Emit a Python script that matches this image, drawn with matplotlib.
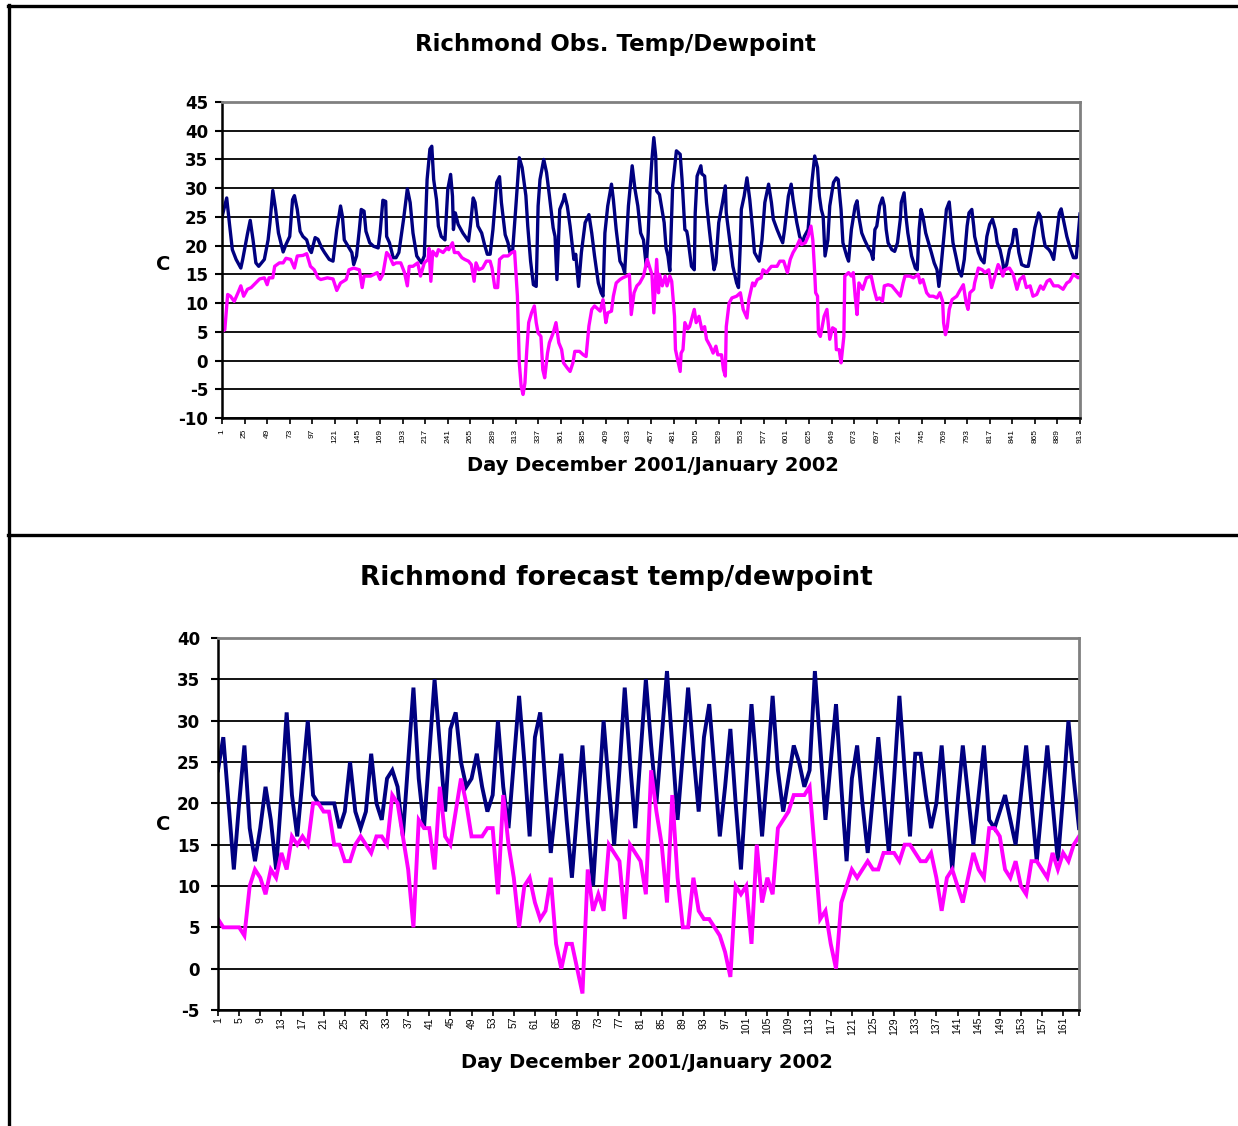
import matplotlib
matplotlib.use("Agg")
import matplotlib.pyplot as plt
from matplotlib.lines import Line2D

plt.rcParams["axes.unicode_minus"] = False

# ---------------- data: observed (hourly, top chart) ----------------
obs_temp_hour = [1, 6, 9, 12, 16, 21, 23, 28, 31, 34, 37, 40, 46, 50, 52, 55, 58, 61, 66, 69,
                 73, 76, 78, 81, 84, 87, 91, 94, 96, 100, 103, 107, 110, 115, 119, 123, 127, 129, 131, 135,
                 139, 141, 144, 147, 149, 152, 154, 158, 162, 167, 169, 172, 175, 176, 179, 183, 186, 189, 194, 198,
                 201, 204, 208, 213, 216, 219, 222, 224, 226, 229, 231, 234, 238, 241, 244, 246, 247, 249, 252, 257,
                 263, 265, 268, 270, 273, 277, 280, 283, 286, 289, 293, 296, 298, 302, 305, 307, 310, 313, 317, 320,
                 324, 326, 329, 332, 335, 337, 339, 343, 346, 349, 353, 355, 357, 360, 364, 365, 368, 371, 375, 377,
                 380, 383, 387, 391, 394, 397, 401, 404, 406, 408, 411, 415, 417, 420, 424, 427, 429, 433, 437, 440,
                 443, 446, 449, 452, 454, 456, 458, 460, 462, 463, 466, 468, 471, 473, 475, 477, 480, 484, 488, 490,
                 493, 495, 496, 500, 503, 504, 506, 510, 511, 514, 516, 519, 521, 524, 526, 529, 533, 536, 537, 541,
                 544, 548, 550, 552, 553, 556, 559, 562, 565, 567, 572, 575, 578, 582, 585, 587, 591, 594, 597, 599,
                 603, 606, 608, 612, 615, 618, 620, 624, 628, 631, 634, 636, 638, 640, 642, 645, 647, 651, 654, 656,
                 659, 661, 665, 667, 670, 674, 676, 678, 681, 684, 688, 691, 693, 695, 697, 700, 703, 705, 707, 709,
                 713, 716, 719, 722, 723, 726, 728, 730, 734, 738, 740, 742, 744, 746, 749, 752, 755, 758, 761, 763,
                 765, 768, 771, 774, 776, 778, 781, 784, 787, 790, 793, 795, 798, 800, 801, 805, 808, 811, 814, 817,
                 820, 823, 825, 828, 831, 832, 835, 838, 841, 843, 845, 848, 851, 855, 858, 862, 865, 869, 871, 874,
                 876, 880, 882, 885, 888, 891, 893, 896, 899, 903, 906, 909, 913]
obs_temp_c = [25, 28.3, 23.7, 19.3, 17.6, 16.1, 17.6, 22, 24.4, 21, 17, 16.4, 17.6, 21, 24, 29.6, 26.3, 22.2, 18.9, 20.2,
              21.6, 28, 28.7, 26.3, 22.5, 21.6, 21, 19.3, 18.8, 21.4, 21.1, 19.6, 18.8, 17.6, 17.3, 22.8, 26.9, 25.1, 21, 19.9,
              18.8, 16.7, 18.2, 22.8, 26.3, 26, 22.5, 20.5, 19.9, 19.6, 22.2, 27.9, 27.7, 21.6, 20.5, 17.9, 17.9, 18.8, 24.6, 29.9,
              27.5, 22.2, 18.2, 17, 18.2, 31.5, 36.8, 37.3, 31.5, 28, 23.4, 21.6, 21, 29.8, 32.4, 28.6, 22.8, 25.7, 23.7, 22.2,
              20.8, 23.4, 28.3, 27.5, 23.4, 22.2, 20.2, 18.5, 18.5, 22.8, 31, 32, 27.5, 21.9, 20.5, 18.8, 19.3, 26, 35.3, 33.6,
              28.7, 23.4, 17.3, 13.2, 12.9, 26.9, 31.5, 35, 32.7, 28.7, 23.1, 21.6, 14.1, 26.3, 28, 28.9, 26.9, 23.4, 17.6, 18.5,
              12.9, 18.8, 24, 25.4, 22.2, 18.2, 13.5, 11.8, 11.2, 22.2, 26.9, 30.7, 28, 22.8, 17.3, 16.4, 15.3, 26.9, 33.9, 29.8,
              26.9, 22.2, 21, 16.4, 22, 30, 35, 38.8, 35.6, 29.5, 28.9, 26.9, 24, 19.6, 18.2, 15.6, 30.4, 36.5, 35.9, 31.5,
              22.8, 22.5, 21.6, 16.4, 15.8, 25.7, 32.1, 33.9, 32.5, 32.1, 27.5, 22.8, 19.9, 15.8, 17, 24, 27.5, 30.4, 25.7, 20.5,
              16.4, 13.5, 12.7, 20.5, 26.3, 28.6, 31.8, 28, 22.8, 18.8, 17.3, 21, 27.5, 30.7, 27.5, 24.6, 22.8, 21.6, 20.5, 22.8,
              28.6, 30.7, 28, 24, 21.6, 20.5, 21.6, 22.8, 31, 35.6, 33.6, 28.6, 26.3, 25.1, 18.2, 21, 26.9, 31, 31.8, 31.5,
              26.3, 20.5, 18.2, 17.3, 22.8, 26.9, 27.8, 25, 22.2, 21, 19.6, 18.8, 17.6, 22.8, 23.4, 26.9, 28.3, 26.9, 22.8, 20.5,
              19.3, 19, 20.5, 24.6, 27.5, 29.2, 25.1, 22.2, 18.2, 16.1, 15.8, 22.8, 26.3, 25.1, 22.2, 20.5, 18.8, 17, 15.8, 12.9,
              15.8, 21, 26.3, 27.6, 24, 20.5, 18.2, 15.8, 14.7, 17.6, 23.4, 25.7, 26.3, 23.4, 21.6, 18.8, 17.6, 17, 21.6, 23.7,
              24.6, 22.8, 20.5, 19.3, 17, 15.8, 16.7, 19.3, 20.5, 22.8, 22.8, 18.8, 16.7, 16.4, 16.4, 19.9, 23.1, 25.7, 25.1, 21.6,
              19.9, 19.3, 18.8, 17.6, 21.6, 25.7, 26.4, 24, 21.6, 19.3, 17.9, 17.9, 25.5]

obs_dew_hour = [1, 4, 7, 10, 14, 18, 21, 24, 28, 32, 35, 41, 46, 49, 51, 55, 57, 62, 66, 69,
                74, 78, 81, 87, 91, 95, 99, 103, 106, 113, 119, 123, 127, 133, 136, 141, 147, 150, 152, 159,
                166, 169, 172, 176, 179, 183, 186, 191, 195, 198, 200, 204, 209, 212, 216, 220, 221, 223, 225, 229,
                231, 236, 240, 242, 246, 248, 252, 256, 259, 263, 266, 269, 271, 274, 278, 282, 286, 288, 291, 294,
                296, 300, 305, 309, 312, 315, 317, 319, 321, 323, 325, 327, 330, 333, 335, 337, 340, 342, 344, 347,
                349, 353, 356, 359, 362, 364, 368, 371, 374, 376, 381, 385, 388, 391, 394, 397, 403, 406, 409, 411,
                415, 417, 420, 424, 427, 431, 434, 436, 439, 442, 445, 449, 453, 456, 458, 460, 463, 465, 466, 469,
                472, 474, 477, 479, 482, 483, 486, 488, 489, 491, 493, 496, 498, 500, 503, 505, 508, 511, 514, 516,
                520, 523, 526, 528, 532, 534, 536, 537, 540, 543, 548, 552, 555, 559, 561, 565, 567, 570, 574, 576,
                580, 582, 585, 591, 594, 598, 602, 605, 608, 612, 615, 617, 621, 624, 627, 629, 631, 632, 634, 635,
                637, 639, 641, 644, 646, 647, 650, 653, 654, 657, 659, 662, 663, 667, 670, 672, 674, 676, 678, 682,
                686, 691, 694, 697, 700, 703, 705, 709, 713, 716, 722, 725, 727, 732, 736, 741, 743, 746, 750, 753,
                757, 761, 764, 767, 768, 770, 772, 774, 777, 782, 785, 789, 792, 794, 796, 800, 801, 805, 809, 812,
                816, 819, 823, 826, 829, 831, 833, 838, 842, 846, 849, 853, 856, 860, 863, 867, 871, 874, 878, 881,
                885, 890, 895, 899, 902, 906, 911, 913]
obs_dew_c = [5, 5.4, 11.5, 11.2, 10.3, 11.8, 13, 11.2, 12.4, 12.7, 13.2, 14.2, 14.4, 13.2, 14.4, 14.4, 16.4, 17, 17, 17.8,
             17.6, 16.1, 18.2, 18.3, 18.6, 16.4, 15.8, 14.4, 14.1, 14.4, 14.2, 12.2, 13.5, 14.1, 15.8, 16.1, 15.8, 12.7, 14.7, 14.7,
             15.3, 14.1, 15, 18.8, 18.2, 16.7, 17, 17, 15.3, 13, 16.4, 16.4, 17, 14.7, 17, 17.6, 19.5, 13.8, 19, 18.2,
             19.3, 18.8, 19.6, 19.3, 20.5, 18.8, 18.8, 17.9, 17.6, 17.3, 16.7, 13.8, 17, 15.8, 16.1, 17.3, 17.3, 16.1, 12.7, 12.7,
             17.6, 18.2, 18.2, 18.8, 19, 11.2, -0.4, -4.5, -5.9, -3.9, 1.9, 6.6, 8.3, 9.5, 6.6, 4.8, 4.2, -1.6, -3, 1.3,
             3.1, 4.8, 6.6, 3.1, 1.9, -0.4, -1.3, -1.9, -0.4, 1.6, 1.6, 1, 0.7, 6, 8.9, 9.5, 8.6, 10.6, 6.6, 8.3,
             8.6, 11.2, 13.5, 14.1, 14.4, 14.7, 15, 8, 11.8, 13, 13.5, 14.7, 17.6, 16, 15, 8.3, 17.6, 11.8, 15, 13,
             14.7, 13, 14.7, 13.8, 7.7, 1.9, -0.4, -1.9, 1.3, 1.9, 6.6, 5.5, 5.9, 7.1, 8.9, 6.6, 7.7, 5.4, 5.9, 3.7,
             2.5, 1.3, 2.5, 1, 1, -1.6, -2.7, 5.9, 10, 10.9, 11.2, 11.8, 8.9, 7.4, 10.6, 13.5, 13, 14.1, 14.4, 15.8,
             15.3, 15.8, 16.4, 16.4, 17.3, 17.3, 15.3, 17.6, 18.8, 19.9, 21, 20.2, 20.5, 21.6, 23.4, 21, 15.3, 11.8, 11.2, 4.8,
             4.2, 6, 7.7, 8.9, 5.4, 3.7, 5.7, 5.4, 1.9, 1.9, -0.4, 4.2, 14.7, 15.3, 14.7, 15.3, 11.2, 8, 13.5, 12.4,
             14.4, 14.7, 12.4, 10.6, 10.9, 10.3, 13, 13.2, 13, 12.4, 11.2, 13.5, 14.7, 14.7, 14.4, 15, 13.5, 14.1, 11.8, 11.2,
             11.2, 10.9, 11.8, 10.3, 6.6, 4.5, 5.9, 8.9, 10.6, 11.2, 12.1, 13.2, 10, 8.9, 11.8, 12.4, 13.5, 16.1, 15.8, 15.3,
             15.8, 12.7, 15, 16.7, 15.8, 14.7, 15.8, 16.1, 15, 12.4, 14.1, 14.7, 12.7, 13, 11.2, 11.5, 13, 12.4, 13.8, 14.1,
             13, 13, 12.4, 13.5, 13.8, 15, 14.4, 14.6]

# ---------------- data: forecast (bottom chart) ----------------
fc_temp_c = [24, 28, 20, 12, 20, 27, 17, 13, 17, 22, 18, 12, 21, 31, 21, 16, 23, 30, 21, 20,
             20, 20, 20, 17, 19, 25, 19, 17, 19, 26, 20, 18, 23, 24, 22, 16, 25, 34, 23, 17,
             26, 35, 27, 19, 29, 31, 25, 22, 23, 26, 22, 19, 21, 30, 22, 17, 25, 33, 25, 16,
             28, 31, 22, 14, 20, 26, 18, 11, 19, 27, 18, 10, 20, 30, 22, 15, 24, 34, 25, 17,
             26, 35, 27, 20, 28, 36, 27, 18, 26, 34, 26, 19, 28, 32, 24, 16, 22, 29, 20, 12,
             22, 32, 24, 16, 24, 33, 24, 19, 23, 27, 25, 22, 24, 36, 27, 18, 25, 32, 22, 13,
             23, 27, 20, 14, 21, 28, 21, 14, 23, 33, 24, 16, 26, 26, 21, 17, 20, 27, 19, 12,
             20, 27, 21, 15, 21, 27, 18, 17, 19, 21, 18, 15, 21, 27, 20, 13, 20, 27, 20, 13,
             21, 30, 23, 17]
fc_dew_c = [6, 5, 5, 5, 5, 4, 10, 12, 11, 9, 12, 11, 14, 12, 16, 15, 16, 15, 20, 20,
            19, 19, 15, 15, 13, 13, 15, 16, 15, 14, 16, 16, 15, 21, 20, 16, 12, 5, 18, 17,
            17, 12, 22, 16, 15, 19, 23, 20, 16, 16, 16, 17, 17, 9, 21, 15, 11, 5, 10, 11,
            8, 6, 7, 11, 3, 0, 3, 3, 0, -3, 12, 7, 9, 7, 15, 14, 13, 6, 15, 14,
            13, 9, 24, 19, 15, 8, 21, 11, 5, 5, 11, 7, 6, 6, 5, 4, 2, -1, 10, 9,
            10, 3, 15, 8, 11, 9, 17, 18, 19, 21, 21, 21, 22, 14, 6, 7, 3, 0, 8, 10,
            12, 11, 12, 13, 12, 12, 14, 14, 14, 13, 15, 15, 14, 13, 13, 14, 11, 7, 11, 12,
            10, 8, 11, 14, 12, 11, 17, 17, 16, 12, 11, 13, 10, 9, 13, 13, 12, 11, 14, 12,
            14, 13, 15, 16]
fc_day = list(range(1, len(fc_temp_c) + 1))

obs_ticks = list(range(1, 914, 24))
fc_ticks = list(range(1, 162, 4))

NAVY = "#000080"
MAGENTA = "#FF00FF"
BOLD = ["DejaVu Sans"]
W, H = 1238, 1126


def fx(x):
    return x / W


def fy(y):
    return 1 - y / H


fig = plt.figure(figsize=(W / 100, H / 100), dpi=100)
fig.patch.set_facecolor("white")


def style_axes(ax, ylo, yhi, xlo, xhi, ypad):
    ax.set_ylim(ylo, yhi)
    ax.set_xlim(xlo, xhi)
    ax.set_yticks(range(ylo, yhi + 1, 5))
    ax.yaxis.grid(True, color="black", linewidth=1.3)
    ax.set_axisbelow(True)
    for s in ("top", "right"):
        ax.spines[s].set_color("#808080")
        ax.spines[s].set_linewidth(2.0)
    for s in ("left", "bottom"):
        ax.spines[s].set_color("black")
        ax.spines[s].set_linewidth(1.8)
    ax.tick_params(axis="y", direction="out", length=5, width=1.5, pad=ypad,
                   labelsize=12, colors="black")
    for lab in ax.get_yticklabels():
        lab.set_fontweight("bold")
        lab.set_family(BOLD)


# ---- top chart ----
ax1 = fig.add_axes([fx(222), fy(418), (1080 - 222) / W, (418 - 102) / H])
ax1.plot(obs_temp_hour, obs_temp_c, color=NAVY, linewidth=2.4, solid_joinstyle="round")
ax1.plot(obs_dew_hour, obs_dew_c, color=MAGENTA, linewidth=2.4, solid_joinstyle="round")
style_axes(ax1, -10, 45, 1, 913, 5)
ax1.set_xticks(obs_ticks)
ax1.set_xticklabels([str(t) for t in obs_ticks], rotation=90, fontsize=6,
                    family=["Liberation Sans"])
ax1.tick_params(axis="x", direction="out", length=4, width=1.2, pad=4)
ax1.yaxis.get_gridlines()[-1].set_visible(False)

# ---- bottom chart ----
ax2 = fig.add_axes([fx(218), fy(1010), (1079 - 218) / W, (1010 - 638) / H])
ax2.plot(fc_day, fc_temp_c, color=NAVY, linewidth=2.8, solid_joinstyle="miter")
ax2.plot(fc_day, fc_dew_c, color=MAGENTA, linewidth=2.8, solid_joinstyle="miter")
style_axes(ax2, -5, 40, 1, len(fc_day), 8)
ax2.set_xticks(fc_ticks)
ax2.set_xticklabels([str(t) for t in fc_ticks], rotation=90, fontsize=7.5,
                    family=["Liberation Sans"])
ax2.set_xticks([len(fc_day)], minor=True)
ax2.tick_params(axis="x", which="both", direction="out", length=4, width=1.2, pad=1)
ax2.yaxis.get_gridlines()[-1].set_visible(False)

# ---- texts ----
fig.text(fx(615), fy(45), "Richmond Obs. Temp/Dewpoint", ha="center", va="center",
         fontsize=16.5, fontweight="bold", family=BOLD)
fig.text(fx(616), fy(578), "Richmond forecast temp/dewpoint", ha="center", va="center",
         fontsize=19, fontweight="bold", family=BOLD)
fig.text(fx(653), fy(466), "Day December 2001/January 2002", ha="center", va="center",
         fontsize=14, fontweight="bold", family=BOLD)
fig.text(fx(647), fy(1062), "Day December 2001/January 2002", ha="center", va="center",
         fontsize=14, fontweight="bold", family=BOLD)
fig.text(fx(163), fy(265), "C", ha="center", va="center",
         fontsize=14, fontweight="bold", family=BOLD)
fig.text(fx(163), fy(825), "C", ha="center", va="center",
         fontsize=14, fontweight="bold", family=BOLD)

# ---- outer frame ----
fig.add_artist(Line2D([fx(9), fx(9)], [0, fy(5)], color="black", linewidth=2.4))
fig.add_artist(Line2D([fx(8), 1], [fy(6), fy(6)], color="black", linewidth=2.4))
fig.add_artist(Line2D([fx(8), 1], [fy(535), fy(535)], color="black", linewidth=2.4))

fig.savefig("out.png", dpi=100, facecolor="white")
